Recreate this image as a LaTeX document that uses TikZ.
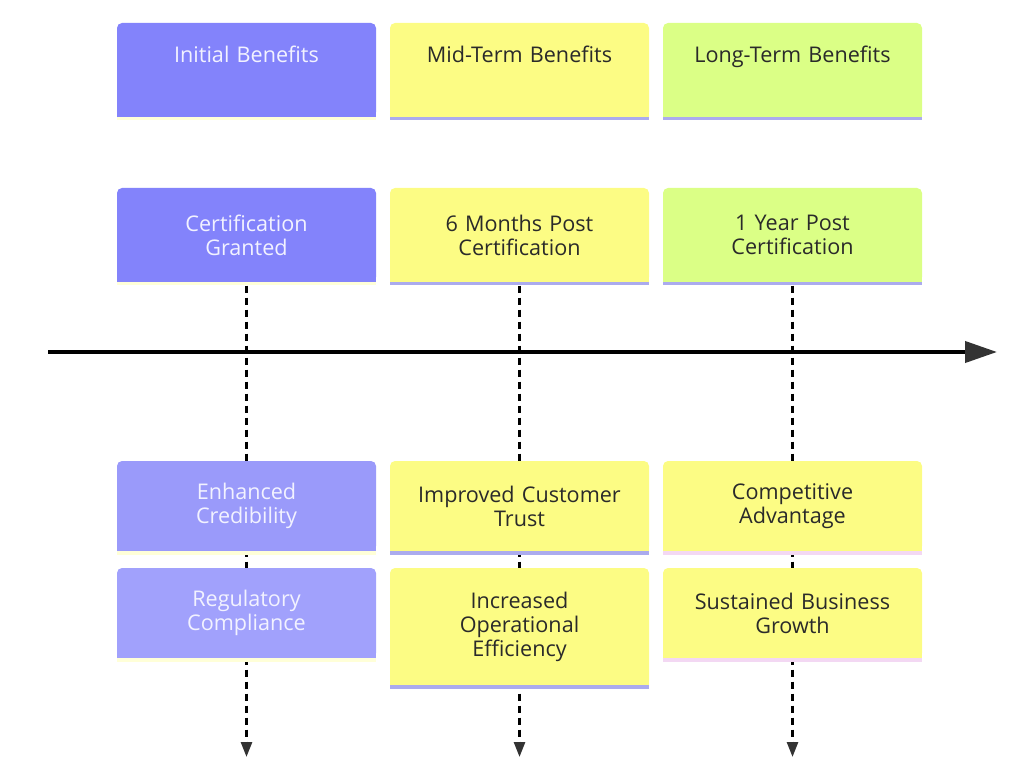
\documentclass[tikz,border=0pt]{standalone}
\usepackage{fontspec}
\setmainfont{Open Sans}
\usetikzlibrary{arrows.meta}
\pgfdeclarelayer{background}
\pgfsetlayers{background,main}
\definecolor{blueA}{HTML}{8383FB}
\definecolor{blueB}{HTML}{9A9AFA}
\definecolor{blueC}{HTML}{A1A1FC}
\definecolor{yel}{HTML}{FCFC84}
\definecolor{grn}{HTML}{DBFF86}
\definecolor{lav}{HTML}{ABABEE}
\definecolor{pinkb}{HTML}{F3D8F3}
\definecolor{paley}{HTML}{FFFFD8}
\definecolor{txtd}{HTML}{2A2A2A}
\definecolor{txtl}{HTML}{F2F2FF}
\definecolor{tipc}{HTML}{333333}
\begin{document}
\begin{tikzpicture}[x=1pt,y=-1pt,
  box/.style={rectangle, minimum width=259pt, inner sep=0pt, align=center,
    font=\fontsize{21.6}{24}\selectfont, text width=255pt},
  dk/.style={text=txtd}, lt/.style={text=txtl},
  conn/.style={line width=2.6pt, dash pattern=on 7pt off 5pt, -{Triangle[length=15pt,width=11pt,color=tipc]}}
]
\useasboundingbox (0,0) rectangle (1024,775);

% helper: box with square bottom and bottom rule
\newcommand{\mybox}[8]{% name, cx, ytop, ybot, fill, rule, textstyle, text
  \path[fill=#5, rounded corners=5pt] (#2-129.5,#3) rectangle (#2+129.5,#4);
  \fill[#5] (#2-129.5,#4-8) rectangle (#2+129.5,#4);
  \fill[#6] (#2-129.5,#4) rectangle (#2+129.5,#4+3.5);
  \node[box,#7, minimum height=#4-#3] (#1) at (#2,{(#3+#4)/2}) {#8};
}

% headers
\path[fill=blueA, rounded corners=5pt] (117,23) rectangle (376,117);
\fill[blueA] (117,109) rectangle (376,117);
\fill[paley] (117,117) rectangle (376,120.5);
\node[box,lt,anchor=base] (h1) at (246.5,62.5) {Initial Benefits};
\path[fill=yel, rounded corners=5pt] (390,23) rectangle (649,117);
\fill[yel] (390,109) rectangle (649,117);
\fill[lav] (390,117) rectangle (649,120.5);
\node[box,dk,anchor=base] (h2) at (519.5,62.5) {Mid-Term Benefits};
\path[fill=grn, rounded corners=5pt] (663,23) rectangle (922,117);
\fill[grn] (663,109) rectangle (922,117);
\fill[lav] (663,117) rectangle (922,120.5);
\node[box,dk,anchor=base] (h3) at (792.5,62.5) {Long-Term Benefits};

% milestones
\mybox{m1}{246.5}{188}{282}{blueA}{paley}{lt}{Certification\\Granted}
\mybox{m2}{519.5}{188}{282}{yel}{lav}{dk}{6 Months Post\\Certification}
\mybox{m3}{792.5}{188}{282}{grn}{lav}{dk}{1 Year Post\\Certification}

% items
\mybox{a1}{246.5}{461}{551}{blueB}{paley}{lt}{Enhanced\\Credibility}
\mybox{a2}{246.5}{568}{658}{blueC}{paley}{lt}{Regulatory\\Compliance}
\mybox{b1}{519.5}{461}{551}{yel}{lav}{dk}{Improved Customer\\Trust}
\mybox{b2}{519.5}{568}{685}{yel}{lav}{dk}{Increased\\Operational\\Efficiency}
\mybox{c1}{792.5}{461}{551}{yel}{pinkb}{dk}{Competitive\\Advantage}
\mybox{c2}{792.5}{568}{658}{yel}{pinkb}{dk}{Sustained Business\\Growth}

% end points
\coordinate (e1) at (246.5,757);
\coordinate (e2) at (519.5,757);
\coordinate (e3) at (792.5,757);
\coordinate (tl) at (48,352);
\coordinate (tr) at (997,352);

\begin{pgfonlayer}{background}
\draw[conn] (m1.south) ++(0,3.5) -- (e1);
\draw[conn] (m2.south) ++(0,3.5) -- (e2);
\draw[conn] (m3.south) ++(0,3.5) -- (e3);
\end{pgfonlayer}

\draw[line width=4pt, -{Triangle[length=32pt,width=21pt,color=tipc]}] (tl) -- (tr);
\end{tikzpicture}
\end{document}
